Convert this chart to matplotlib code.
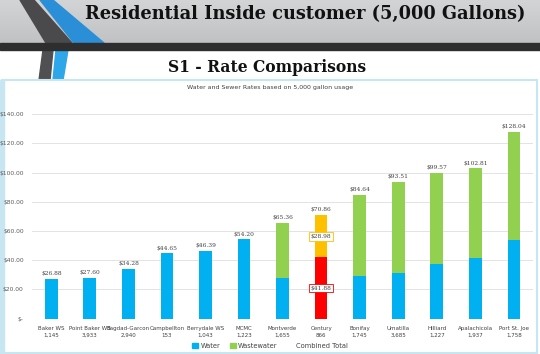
import numpy as np
import matplotlib
matplotlib.use('Agg')
import matplotlib.pyplot as plt
from matplotlib.patches import Polygon, Rectangle

names = ['Baker WS', 'Point Baker WS', 'Bagdad-Garcon', 'Campbellton', 'Berrydale WS', 'MCMC',
         'Montverde', 'Century', 'Bonifay', 'Umatilla', 'Hilliard', 'Apalachicola', 'Port St. Joe']
customers = ['1,145', '3,933', '2,940', '153', '1,043', '1,223',
             '1,655', '866', '1,745', '3,685', '1,227', '1,937', '1,758']
water = [26.88, 27.60, 34.28, 44.65, 46.39, 54.20, 28.1, 41.88, 29.2, 31.5, 37.5, 41.6, 54.1]
wastewater = [0, 0, 0, 0, 0, 0, 37.26, 28.98, 55.44, 62.01, 62.07, 61.21, 73.94]
totals = [26.88, 27.60, 34.28, 44.65, 46.39, 54.20, 65.36, 70.86, 84.64, 93.51, 99.57, 102.81, 128.04]
yticks = [0, 20, 40, 60, 80, 100, 120, 140]
ytick_labels = ['$-', '$20.00', '$40.00', '$60.00', '$80.00', '$100.00', '$120.00', '$140.00']
highlight = 'Century'

BLUE, GREEN, RED, ORANGE = '#00b0f0', '#92d050', '#ff0000', '#ffc000'

fig = plt.figure(figsize=(5.4, 3.54), dpi=100)

# background decorations in pixel coords
bg = fig.add_axes([0, 0, 1, 1])
bg.set_xlim(0, 540)
bg.set_ylim(354, 0)
bg.axis('off')
grad = np.linspace(0, 1, 50).reshape(-1, 1)
bg.imshow(grad, extent=(0, 540, 43, 0), cmap=matplotlib.colors.LinearSegmentedColormap.from_list('g', ['#d2d4d6', '#c0c2c4']),
          aspect='auto', zorder=0)
bg.add_patch(Polygon([(20, 0), (34, 0), (72, 43), (46, 43)], color='#4a4a4c', zorder=1))
bg.add_patch(Polygon([(40, 0), (53, 0), (104, 43), (74, 43)], color='#2a8fd6', zorder=1))
bg.add_patch(Rectangle((0, 43), 540, 7, color='#2e2e2e', zorder=2))
bg.add_patch(Polygon([(43, 50), (53, 50), (50, 80), (39, 80)], color='#505052', zorder=1))
bg.add_patch(Polygon([(56, 50), (68, 50), (63, 80), (53, 80)], color='#2ea6ea', zorder=1))
bg.add_patch(Rectangle((2, 80), 535, 273, facecolor='white', edgecolor='#c8e6f2', lw=1.5, zorder=3))
bg.add_patch(Rectangle((0, 80), 4, 274, color='#c8e6f2', zorder=3))
bg.text(305, 14, 'Residential Inside customer (5,000 Gallons)', family='DejaVu Serif', weight='heavy',
        fontsize=12.8, ha='center', va='center', color='#111111', zorder=4)
bg.text(267, 68, 'S1 - Rate Comparisons', family='DejaVu Serif', weight='heavy',
        fontsize=11.2, ha='center', va='center', color='#111111', zorder=4)
bg.text(270, 88, 'Water and Sewer Rates based on 5,000 gallon usage', fontsize=4.5,
        ha='center', va='center', color='#404040', zorder=4)

ax = fig.add_axes([0.0593, 0.0997, 0.928, 0.578])
ax.set_facecolor('none')
x = np.arange(len(names))
wcol = [RED if n == highlight else BLUE for n in names]
scol = [ORANGE if n == highlight else GREEN for n in names]
ax.bar(x, water, width=0.33, color=wcol, zorder=3)
ax.bar(x, wastewater, bottom=water, width=0.33, color=scol, zorder=3)
ax.set_xlim(-0.5, len(names) - 0.5)
ax.set_ylim(0, 140)
ax.set_yticks(yticks)
ax.set_yticklabels(ytick_labels)
ax.set_xticks(x)
ax.set_xticklabels([n + '\n' + c for n, c in zip(names, customers)], linespacing=1.6)
ax.tick_params(axis='y', length=0, labelsize=4.3, labelcolor='#595959', pad=6)
ax.tick_params(axis='x', length=0, labelsize=4.0, labelcolor='#404040', pad=5)
for s in ax.spines.values():
    s.set_visible(False)
ax.grid(axis='y', color='#e3e3e3', lw=0.7, zorder=0)

for i, t in enumerate(totals):
    ax.text(i, t + 2, '${:.2f}'.format(t), ha='center', va='bottom', fontsize=4.3,
            family='DejaVu Serif', color='#404040')
    if names[i] == highlight:
        ax.text(i, water[i] + wastewater[i] / 2, '${:.2f}'.format(wastewater[i]), ha='center', va='center',
                fontsize=4.3, family='DejaVu Serif', color='#404040', zorder=5,
                bbox=dict(boxstyle='square,pad=0.3', fc='white', ec=ORANGE, lw=0.6))
        ax.text(i, water[i] / 2, '${:.2f}'.format(water[i]), ha='center', va='center',
                fontsize=4.3, family='DejaVu Serif', color='#404040', zorder=5,
                bbox=dict(boxstyle='square,pad=0.3', fc='white', ec=RED, lw=0.6))

h1 = Rectangle((0, 0), 1, 1, color=BLUE)
h2 = Rectangle((0, 0), 1, 1, color=GREEN)
h3 = Rectangle((0, 0), 1, 1, color='none')
fig.legend([h1, h2, h3], ['Water', 'Wastewater', 'Combined Total'], loc='center',
           bbox_to_anchor=(0.5, 1 - 346 / 354), ncol=3, frameon=False, fontsize=4.8,
           handlelength=0.8, handleheight=0.8, handletextpad=0.4, columnspacing=1.5,
           labelcolor='#404040')

fig.savefig('out.png', dpi=100)
